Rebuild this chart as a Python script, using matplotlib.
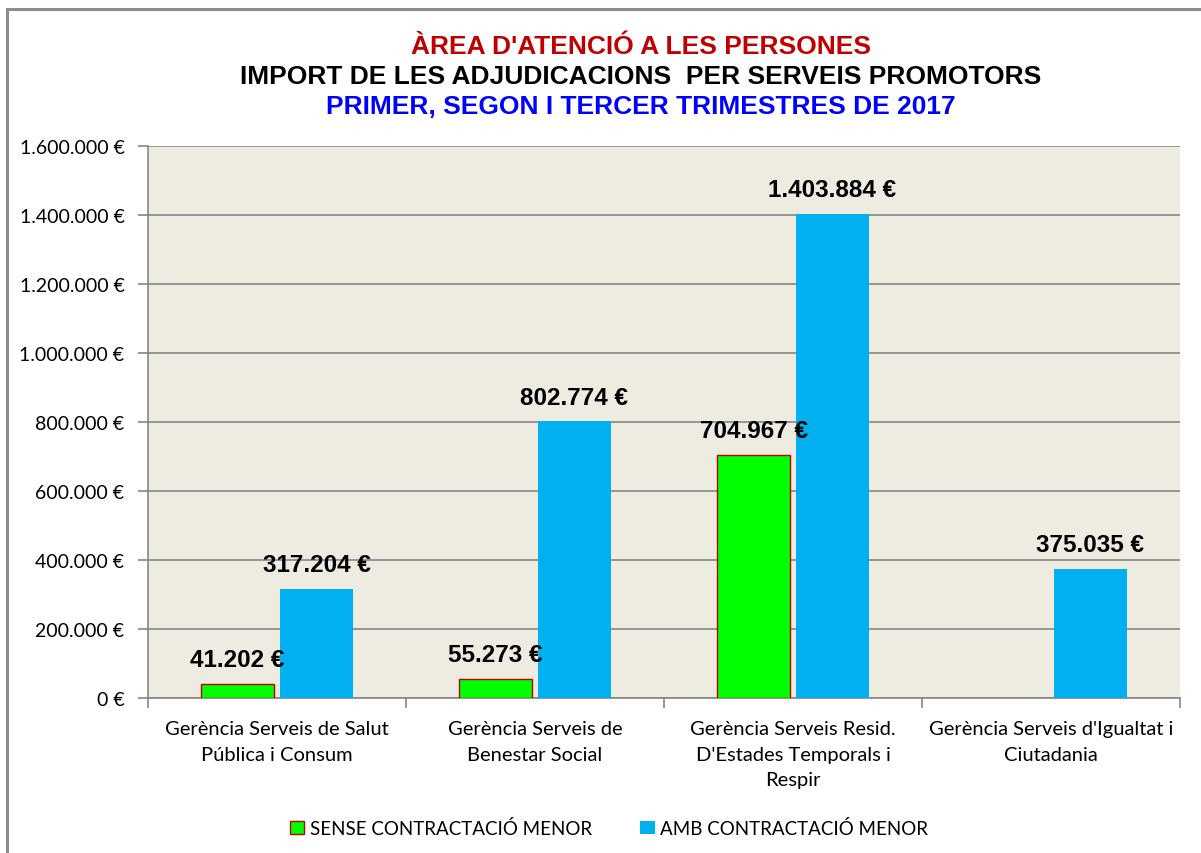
import numpy as np
import matplotlib
matplotlib.use("Agg")
import matplotlib.pyplot as plt
from matplotlib.patches import Rectangle
from matplotlib.ticker import FuncFormatter, FixedLocator

categories = ["Gerència Serveis de Salut\nPública i Consum",
              "Gerència Serveis de\nBenestar Social",
              "Gerència Serveis Resid.\nD'Estades Temporals i\nRespir",
              "Gerència Serveis d'Igualtat i\nCiutadania"]
sense = [41202, 55273, 704967, np.nan]
amb = [317204, 802774, 1403884, 375035]
series_names = ["SENSE CONTRACTACIÓ MENOR", "AMB CONTRACTACIÓ MENOR"]
title_lines = ["ÀREA D'ATENCIÓ A LES PERSONES",
               "IMPORT DE LES ADJUDICACIONS  PER SERVEIS PROMOTORS",
               "PRIMER, SEGON I TERCER TRIMESTRES DE 2017"]

def eur(v):
    return f"{int(round(v)):,}".replace(",", ".") + " €"

fig = plt.figure(figsize=(12.01, 8.54), dpi=100)
ax = fig.add_axes([148/1201, 1-699/854, (1180-148)/1201, (699-147)/854])
ax.set_facecolor("#EEECE1")

x = np.arange(len(categories))
w = 0.28
off = 0.153
b1 = ax.bar(x - off, sense, w, color="#00FF00", edgecolor="#C00000", linewidth=1, label=series_names[0], zorder=3)
b2 = ax.bar(x + off, amb, w, color="#00B0F0", edgecolor="none", label=series_names[1], zorder=3)

for bars, vals in ((b1, sense), (b2, amb)):
    for rect, v in zip(bars, vals):
        if np.isnan(v):
            continue
        ax.annotate(eur(v), (rect.get_x() + rect.get_width()/2, v), xytext=(0, 9),
                    textcoords="offset points", ha="center", va="bottom",
                    fontsize=17.5, fontweight="bold", family="Liberation Sans", color="black")

ax.set_xlim(-0.5, len(categories) - 0.5)
ax.set_ylim(0, 1600000)
ax.yaxis.set_major_locator(FixedLocator(np.arange(0, 1600001, 200000)))
ax.yaxis.set_major_formatter(FuncFormatter(lambda v, p: eur(v)))
ax.grid(axis="y", color="#868686", linewidth=1.2, zorder=0)
ax.set_axisbelow(True)

ax.set_xticks(x)
ax.set_xticklabels(categories, family="Lato", fontsize=14.5, linespacing=1.6)
ax.set_xticks(np.arange(-0.5, len(categories)), minor=True)
ax.tick_params(axis="x", which="major", length=0, pad=16)
ax.tick_params(axis="x", which="minor", length=7, color="#868686", width=1.2)
ax.tick_params(axis="y", length=7, color="#868686", width=1.2, pad=10)
for lab in ax.get_yticklabels():
    lab.set_family("Lato")
    lab.set_fontsize(14)

for s in ["top", "right"]:
    ax.spines[s].set_visible(False)
for s in ["left", "bottom"]:
    ax.spines[s].set_color("#868686")
    ax.spines[s].set_linewidth(1.2)

colors = ["#C00000", "black", "#0000FF"]
ys = [46.5, 77.5, 107.5]
for t, c, yy in zip(title_lines, colors, ys):
    fig.text(641/1201, 1 - yy/854, t, ha="center", va="center", color=c,
             fontsize=19, fontweight="bold", family="Liberation Sans")

leg = fig.legend(handles=[b1, b2], labels=series_names, loc="center", bbox_to_anchor=(609/1201, 1 - 829/854),
                 ncol=2, frameon=False, prop={"family": "Lato", "size": 13.5},
                 handlelength=0.75, handleheight=0.75, handletextpad=0.3, columnspacing=2.6)

fig.patches.append(Rectangle((7/1201, -0.1), 1.2, 1 - 9.5/854 + 0.1, transform=fig.transFigure,
                             fill=False, edgecolor="#8C8C8C", linewidth=2.2))

fig.savefig("out.png", dpi=100, facecolor="white")
